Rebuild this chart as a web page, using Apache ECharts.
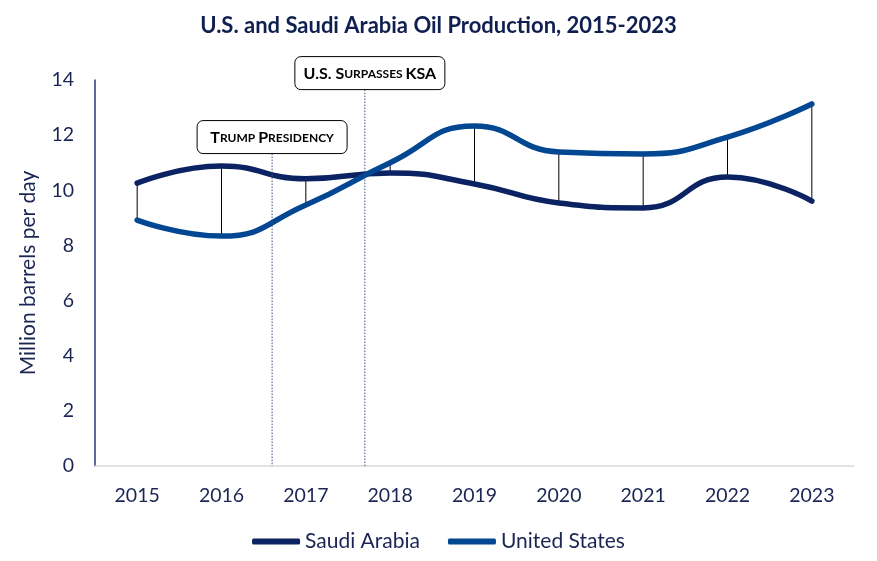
<!DOCTYPE html>
<html><head><meta charset="utf-8">
<script src="https://cdn.jsdelivr.net/npm/echarts@6/dist/echarts.min.js"></script>
<style>html,body{margin:0;padding:0;background:#fff}#c{width:877px;height:561px}</style>
</head><body><div id="c"></div>
<script>
var years = ['2015','2016','2017','2018','2019','2020','2021','2022','2023'];
var saudi = [10.26, 10.88, 10.42, 10.63, 10.23, 9.54, 9.36, 10.48, 9.61];
var usa = [8.92, 8.34, 9.47, 11.0, 12.33, 11.39, 11.32, 11.93, 13.13];
var yTicks = [0, 2, 4, 6, 8, 10, 12, 14];
// annotations: [x position on category scale, box center value, label parts]
var annotations = [
  {pos: 1.6, boxY: 11.93, dx: 0, parts: [['a','T'],['b','RUMP '],['a','P'],['b','RESIDENCY']]},
  {pos: 2.7, boxY: 14.25, dx: 5, parts: [['a','U.S. S'],['b','URPASSES '],['a','KSA']]}
];

var FONT = 'Lato, "Open Sans", sans-serif';
var chart = echarts.init(document.getElementById('c'));
var dropData = years.map(function(y, i){ return [i, saudi[i], usa[i]]; });
var annData = annotations.map(function(a, i){ return [a.pos, a.boxY, i]; });

chart.setOption({
  animation: false,
  title: {
    text: 'U.S. and Saudi Arabia Oil Production, 2015-2023',
    left: 'center', top: 10,
    textStyle: {fontFamily: FONT, fontSize: 22, fontWeight: 'bold', color: '#0f1f4f'}
  },
  legend: {
    bottom: 4, left: 'center',
    itemWidth: 48, itemHeight: 6, itemGap: 28,
    icon: 'roundRect',
    textStyle: {fontFamily: FONT, fontSize: 21, color: '#1b2554'},
    data: ['Saudi Arabia', 'United States']
  },
  grid: {left: 95, right: 23, top: 80, bottom: 95},
  xAxis: [{
    type: 'category', data: years, boundaryGap: true,
    axisLine: {lineStyle: {color: '#d9d9d9', width: 1.5}},
    axisTick: {show: false},
    axisLabel: {fontFamily: FONT, fontSize: 19.5, color: '#1b2554', margin: 20}
  }, {
    type: 'value', min: -0.5, max: 8.5, show: false
  }],
  yAxis: {
    type: 'value', min: 0, max: 14, interval: 2,
    name: 'Million barrels per day', nameLocation: 'middle', nameGap: 56,
    nameTextStyle: {fontFamily: FONT, fontSize: 21, color: '#1b2554'},
    axisLine: {show: true, onZero: false, lineStyle: {color: '#1f3a7a', width: 1.5}},
    axisTick: {show: false},
    splitLine: {show: false},
    axisLabel: {fontFamily: FONT, fontSize: 19.5, color: '#1b2554', margin: 21,
      formatter: function(v){ return yTicks.indexOf(v) >= 0 ? String(v) : ''; }}
  },
  series: [{
    name: 'drop', type: 'custom', xAxisIndex: 0, z: 1,
    renderItem: function(params, api){
      var p1 = api.coord([api.value(0), api.value(1)]);
      var p2 = api.coord([api.value(0), api.value(2)]);
      return {type: 'line', shape: {x1: p1[0], y1: p1[1], x2: p2[0], y2: p2[1]},
        style: {stroke: '#000', lineWidth: 1}};
    },
    data: dropData
  }, {
    name: 'Saudi Arabia', type: 'line', data: saudi, smooth: 0.5, showSymbol: false, z: 3,
    itemStyle: {color: '#0b2362'},
    lineStyle: {color: '#0b2362', width: 5.5, cap: 'round'}
  }, {
    name: 'United States', type: 'line', data: usa, smooth: 0.5, showSymbol: false, z: 4,
    itemStyle: {color: '#034793'},
    lineStyle: {color: '#034793', width: 5.5, cap: 'round'}
  }, {
    name: 'annot', type: 'custom', xAxisIndex: 1, clip: false, z: 5,
    renderItem: function(params, api){
      var a = annotations[api.value(2)];
      var c = api.coord([api.value(0), api.value(1)]);
      var base = api.coord([api.value(0), 0]);
      var w = 150, h = 33;
      var text = a.parts.map(function(p){ return '{' + p[0] + '|' + p[1] + '}'; }).join('');
      return {type: 'group', children: [
        {type: 'line', shape: {x1: c[0], y1: c[1] + h/2, x2: base[0], y2: base[1]},
          style: {stroke: '#3c4f7a', lineWidth: 1, lineDash: [1.5, 1.5]}},
        {type: 'rect', shape: {x: c[0] + a.dx - w/2, y: c[1] - h/2, width: w, height: h, r: 6},
          style: {fill: '#fff', stroke: '#000', lineWidth: 1}},
        {type: 'text', x: c[0] + a.dx, y: c[1] + 1,
          style: {text: text, align: 'center', verticalAlign: 'middle',
            rich: {
              a: {fontFamily: FONT, fontSize: 16, fontWeight: 'bold', fill: '#000'},
              b: {fontFamily: FONT, fontSize: 12, fontWeight: 'bold', fill: '#000'}
            }}}
      ]};
    },
    data: annData
  }]
});
</script></body></html>
